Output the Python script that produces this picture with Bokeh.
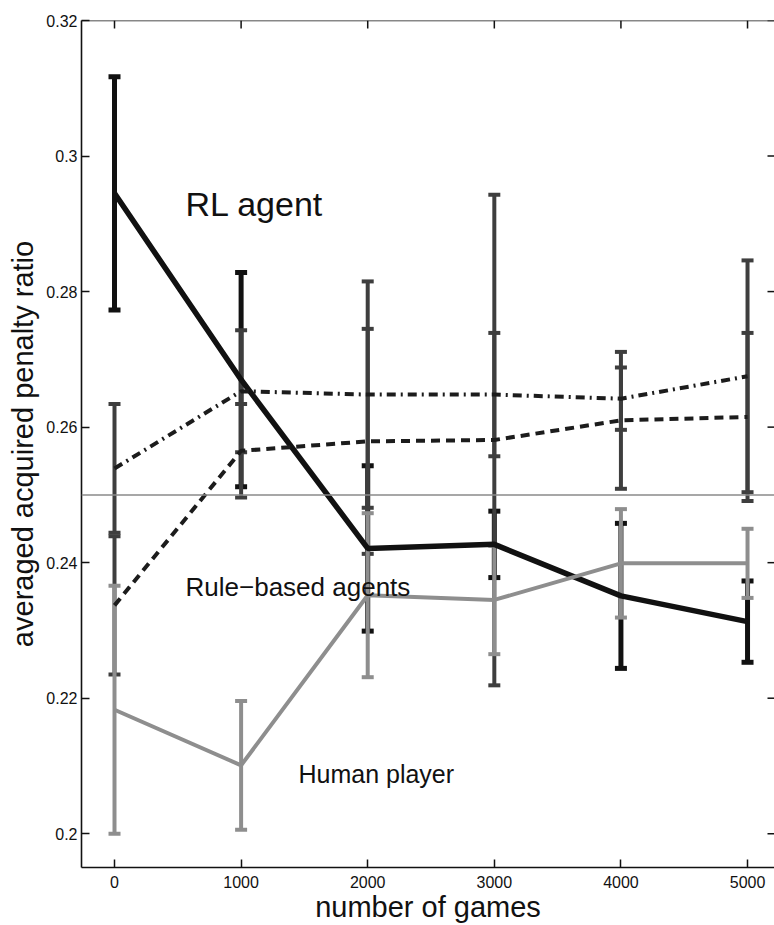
from bokeh.plotting import figure
from bokeh.models import Range1d, FixedTicker, Label, Span
from bokeh.embed import file_html
from bokeh.resources import INLINE

# Number of games played
games = [0, 1000, 2000, 3000, 4000, 5000]

# RL agent: mean penalty ratio and error half-width
rl_mean = [0.2945, 0.2670, 0.2421, 0.2427, 0.2351, 0.2313]
rl_err = [0.0172, 0.0158, 0.0122, 0.0049, 0.0107, 0.0060]

# Rule-based agent A (dash-dot)
rule_a_mean = [0.2539, 0.2653, 0.2648, 0.2648, 0.2642, 0.2675]
rule_a_err = [0.0095, 0.0090, 0.0167, 0.0091, 0.0046, 0.0171]

# Rule-based agent B (dashed)
rule_b_mean = [0.2337, 0.2565, 0.2579, 0.2581, 0.2610, 0.2615]
rule_b_err = [0.0102, 0.0069, 0.0166, 0.0362, 0.0101, 0.0124]

# Human player
human_mean = [0.2183, 0.2101, 0.2352, 0.2345, 0.2399, 0.2399]
human_err = [0.0183, 0.0095, 0.0121, 0.0080, 0.0080, 0.0051]

# Expected ratio with four players
baseline_ratio = 0.25

x_ticks = [0, 1000, 2000, 3000, 4000, 5000]
x_tick_labels = ["0", "1000", "2000", "3000", "4000", "5000"]
y_ticks = [0.2, 0.22, 0.24, 0.26, 0.28, 0.3, 0.32]
y_tick_labels = ["0.2", "0.22", "0.24", "0.26", "0.28", "0.3", "0.32"]

FONT = "Liberation Sans"
INK = "#111111"

X0, X1 = -260.7, 5213.0
Y0, Y1 = 0.19502, 0.32
W, H = 774, 925
LEFT, TOP, BOTTOM = 81, 20, 51

p = figure(width=W, height=H, output_backend="svg", toolbar_location=None,
           x_range=Range1d(X0, X1), y_range=Range1d(Y0, Y1),
           min_border_left=LEFT, min_border_right=0, min_border_top=TOP,
           min_border_bottom=BOTTOM,
           x_axis_label="number of games", y_axis_label="averaged acquired penalty ratio")
p.background_fill_color = "white"
p.border_fill_color = "white"
p.outline_line_color = None
p.xgrid.visible = False
p.ygrid.visible = False

for ax, ticks, labels in ((p.xaxis[0], x_ticks, x_tick_labels),
                          (p.yaxis[0], y_ticks, y_tick_labels)):
    ax.ticker = FixedTicker(ticks=ticks)
    ax.major_label_overrides = {t: l for t, l in zip(ticks, labels)}
    ax.major_tick_in = 8
    ax.major_tick_out = 0
    ax.minor_tick_in = 0
    ax.minor_tick_out = 0
    ax.major_tick_line_color = INK
    ax.major_tick_line_width = 1.5
    ax.axis_line_color = INK
    ax.axis_line_width = 1.6
    ax.major_label_text_font = FONT
    ax.major_label_text_font_size = "16px"
    ax.major_label_text_color = INK
    ax.axis_label_text_font = FONT
    ax.axis_label_text_font_size = "29px"
    ax.axis_label_text_font_style = "normal"
    ax.axis_label_text_color = INK

p.xaxis[0].major_label_standoff = 8
p.xaxis[0].axis_label_standoff = 0
p.yaxis[0].major_label_standoff = 4
p.yaxis[0].axis_label_standoff = 4

# Box edge along the top, with inward ticks on the top and right sides
x_per_px = (X1 - X0) / (W - LEFT)
y_per_px = (Y1 - Y0) / (H - TOP - BOTTOM)
p.add_layout(Span(location=Y1, dimension="width", line_color=INK, line_width=1.6))
p.segment(x0=x_ticks, y0=[Y1] * len(x_ticks), x1=x_ticks,
          y1=[Y1 - 8 * y_per_px] * len(x_ticks), line_color=INK, line_width=1.5)
p.segment(x0=[X1] * len(y_ticks), y0=y_ticks, x1=[X1 - 7 * x_per_px] * len(y_ticks),
          y1=y_ticks, line_color=INK, line_width=1.5)

p.add_layout(Span(location=baseline_ratio, dimension="width",
                  line_color="#8a8a8a", line_width=1.5))


def error_bars(mean, err, color, width, cap):
    lo = [m - e for m, e in zip(mean, err)]
    hi = [m + e for m, e in zip(mean, err)]
    p.segment(x0=games, y0=lo, x1=games, y1=hi, line_color=color, line_width=width)
    p.scatter(x=games + games, y=lo + hi, marker="dash", size=cap,
              line_color=color, line_width=width)


RL_COLOR = "#111111"
RULE_BAR = "#3e3e3e"
RULE_LINE = "#1c1c1c"
HUMAN = "#8e8e8e"

error_bars(rl_mean, rl_err, RL_COLOR, 5, 12)
error_bars(rule_a_mean, rule_a_err, RULE_BAR, 4, 12)
error_bars(rule_b_mean, rule_b_err, RULE_BAR, 4, 12)
error_bars(human_mean, human_err, HUMAN, 4, 12)

p.line(games, rl_mean, line_color=RL_COLOR, line_width=5.5)
p.line(games, rule_a_mean, line_color=RULE_LINE, line_width=4, line_dash="9 5 2 5")
p.line(games, rule_b_mean, line_color=RULE_LINE, line_width=4, line_dash="9 6")
p.line(games, human_mean, line_color=HUMAN, line_width=4)

p.add_layout(Label(x=561, y=0.2929, text="RL agent", text_font=FONT,
                   text_font_size="34px", text_color=INK, text_baseline="alphabetic"))
p.add_layout(Label(x=561, y=0.2364, text="Rule\u2212based agents", text_font=FONT,
                   text_font_size="26px", text_color=INK, text_baseline="alphabetic"))
p.add_layout(Label(x=1453, y=0.2088, text="Human player", text_font=FONT,
                   text_font_size="25px", text_color=INK, text_baseline="alphabetic"))

open("out.html", "w").write(file_html(p, INLINE))
